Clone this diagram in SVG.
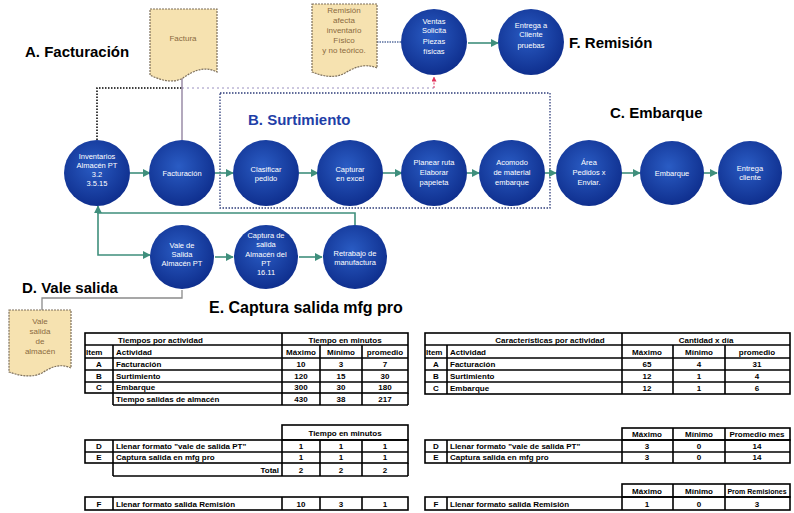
<svg xmlns="http://www.w3.org/2000/svg" width="794" height="513" viewBox="0 0 794 513">
<style>
.nt{font-family:"Liberation Sans",Arial,sans-serif;font-size:7.5px;fill:#fff;text-anchor:middle}
.dt{font-family:"Liberation Sans",Arial,sans-serif;font-size:8px;fill:#8a6a40;text-anchor:middle}
.ttl{font-family:"Liberation Sans",Arial,sans-serif;font-size:15px;font-weight:bold;fill:#000}
.tb{font-family:"Liberation Sans",Arial,sans-serif;font-size:8px;font-weight:bold;fill:#000}
.c{text-anchor:middle}
.g line,.g rect{stroke:#000;stroke-width:1.6;fill:none}
.arr{stroke:#3f8f7c;stroke-width:1.6;fill:none;marker-end:url(#ah)}
.doc{fill:#f6e2b0;stroke:#7d6f5a;stroke-width:1.2;stroke-dasharray:2 1}
</style>
<defs>
<radialGradient id="bg" cx="0.45" cy="0.4" r="0.6">
<stop offset="0" stop-color="#2a5cc4"/>
<stop offset="1" stop-color="#0f2f8e"/>
</radialGradient>
<marker id="ah" viewBox="0 0 10 10" refX="9" refY="5" markerWidth="5" markerHeight="5" orient="auto">
<path d="M0,0 L10,5 L0,10 Z" fill="#3f8f7c"/>
</marker>
<marker id="ahr" viewBox="0 0 10 10" refX="9" refY="5" markerWidth="5" markerHeight="5" orient="auto">
<path d="M0,0 L10,5 L0,10 Z" fill="#e0305a"/>
</marker>
</defs>
<rect width="794" height="513" fill="#fff"/>

<!-- titles -->
<text class="ttl" x="25" y="57">A. Facturación</text>
<text class="ttl" x="569" y="48">F. Remisión</text>
<text class="ttl" x="610" y="118">C. Embarque</text>
<text class="ttl" x="22" y="293">D. Vale salida</text>
<text class="ttl" x="209" y="313" style="font-size:16px">E. Captura salida mfg pro</text>
<text x="248" y="125" style="font-family:'Liberation Sans',Arial,sans-serif;font-size:15px;font-weight:bold;fill:#1f3fa8">B. Surtimiento</text>

<!-- Surtimiento box -->
<rect x="220" y="93" width="330" height="115" fill="none" stroke="#2e3d7a" stroke-width="1.3" stroke-dasharray="1.5 1.5"/>

<!-- connectors -->
<g id="connectors">
<path d="M97,140 V88 H182" fill="none" stroke="#000" stroke-width="1.5" stroke-dasharray="1.5 1.5"/>
<path d="M182,88 H434" fill="none" stroke="#9a90c0" stroke-width="1" stroke-dasharray="2 3"/>
<path d="M434,88 V77" fill="none" stroke="#e0305a" stroke-width="1" stroke-dasharray="2 1.5" marker-end="url(#ahr)"/>
<line x1="182" y1="78" x2="182" y2="140" stroke="#8a7a9a" stroke-width="1.3"/>
<line x1="377" y1="42" x2="402" y2="42" stroke="#5a70a0" stroke-width="1.3" stroke-dasharray="1.5 1"/>
<line class="arr" x1="468" y1="43" x2="498" y2="43"/>
<line class="arr" x1="130" y1="173" x2="150" y2="173"/>
<line class="arr" x1="215" y1="173" x2="233" y2="173"/>
<line class="arr" x1="299" y1="173" x2="318" y2="173"/>
<line class="arr" x1="383" y1="173" x2="402" y2="173"/>
<line class="arr" x1="467" y1="173" x2="479" y2="173"/>
<line class="arr" x1="545" y1="173" x2="556" y2="173"/>
<line class="arr" x1="621" y1="173" x2="640" y2="173"/>
<line class="arr" x1="704" y1="173" x2="717" y2="173"/>
<path class="arr" d="M355,225 V213 H98 V206"/>
<path class="arr" d="M98,213 V255 H150"/>
<line class="arr" x1="215" y1="257" x2="233" y2="257"/>
<line class="arr" x1="299" y1="257" x2="322" y2="257"/>
<path d="M182,290 V298 H42 V310" fill="none" stroke="#8a8a8a" stroke-width="1.3"/>
</g>

<!-- documents -->
<g id="doc-factura">
<path class="doc" d="M150,9 H217 V72 C205,66 194,70 183,78 C172,84 160,80 150,75 Z"/>
<text class="dt" x="183" y="41">Factura</text>
</g>
<g id="doc-remision">
<path class="doc" d="M312,4 H377 V68 C365,63 355,67 345,73 C334,79 322,76 312,72 Z"/>
<text class="dt" x="344" y="13">Remisión</text>
<text class="dt" x="344" y="23">afecta</text>
<text class="dt" x="344" y="33">inventario</text>
<text class="dt" x="344" y="43">Físico</text>
<text class="dt" x="344" y="53">y no teórico.</text>
</g>
<g id="doc-vale">
<path class="doc" d="M9,310 H71 V368 C60,363 51,367 42,373 C32,378 20,376 9,372 Z"/>
<text class="dt" x="40" y="324">Vale</text>
<text class="dt" x="40" y="334">salida</text>
<text class="dt" x="40" y="344">de</text>
<text class="dt" x="40" y="354">almacén</text>
</g>

<!-- nodes -->
<g id="n-inventarios"><circle cx="97" cy="173" r="33" fill="url(#bg)"/>
<text class="nt" x="97" y="159">Inventarios</text><text class="nt" x="97" y="168">Almacén PT</text><text class="nt" x="97" y="177">3.2</text><text class="nt" x="97" y="186">3.5.15</text></g>
<g id="n-facturacion"><circle cx="182" cy="173" r="33" fill="url(#bg)"/>
<text class="nt" x="182" y="176">Facturación</text></g>
<g id="n-clasificar"><circle cx="266" cy="173" r="33" fill="url(#bg)"/>
<text class="nt" x="266" y="172">Clasificar</text><text class="nt" x="266" y="181">pedido</text></g>
<g id="n-capturar"><circle cx="350" cy="173" r="33" fill="url(#bg)"/>
<text class="nt" x="350" y="172">Capturar</text><text class="nt" x="350" y="181">en excel</text></g>
<g id="n-planear"><circle cx="434" cy="173" r="33" fill="url(#bg)"/>
<text class="nt" x="434" y="165">Planear ruta</text><text class="nt" x="434" y="175">Elaborar</text><text class="nt" x="434" y="185">papeleta</text></g>
<g id="n-acomodo"><circle cx="512" cy="173" r="33" fill="url(#bg)"/>
<text class="nt" x="512" y="165">Acomodo</text><text class="nt" x="512" y="175">de material</text><text class="nt" x="512" y="185">embarque</text></g>
<g id="n-area"><circle cx="589" cy="173" r="33" fill="url(#bg)"/>
<text class="nt" x="589" y="165">Área</text><text class="nt" x="589" y="175">Pedidos x</text><text class="nt" x="589" y="185">Enviar.</text></g>
<g id="n-embarque"><circle cx="672" cy="173" r="32" fill="url(#bg)"/>
<text class="nt" x="672" y="176">Embarque</text></g>
<g id="n-entrega"><circle cx="750" cy="173" r="32" fill="url(#bg)"/>
<text class="nt" x="750" y="171">Entrega</text><text class="nt" x="750" y="180">cliente</text></g>
<g id="n-vale"><circle cx="182" cy="257" r="32" fill="url(#bg)"/>
<text class="nt" x="182" y="248">Vale de</text><text class="nt" x="182" y="257">Salida</text><text class="nt" x="182" y="266">Almacén PT</text></g>
<g id="n-captura"><circle cx="266" cy="257" r="32" fill="url(#bg)"/>
<text class="nt" x="266" y="238">Captura de</text><text class="nt" x="266" y="247">salida</text><text class="nt" x="266" y="257">Almacén del</text><text class="nt" x="266" y="266">PT</text><text class="nt" x="266" y="275">16.11</text></g>
<g id="n-retrabajo"><circle cx="355" cy="257" r="32" fill="url(#bg)"/>
<text class="nt" x="355" y="256">Retrabajo de</text><text class="nt" x="355" y="265">manufactura</text></g>
<g id="n-ventas"><circle cx="434" cy="42" r="33" fill="url(#bg)"/>
<text class="nt" x="434" y="24">Ventas</text><text class="nt" x="434" y="33">Solicita</text><text class="nt" x="434" y="44">Piezas</text><text class="nt" x="434" y="54">físicas</text></g>
<g id="n-entrega-pruebas"><circle cx="531" cy="42" r="33" fill="url(#bg)"/>
<text class="nt" x="531" y="28">Entrega a</text><text class="nt" x="531" y="37">Cliente</text><text class="nt" x="531" y="48">pruebas</text></g>

<!-- left tables -->
<g class="g" id="table-left">
<rect x="85" y="333" width="323" height="60"/>
<line x1="85" y1="345" x2="408" y2="345"/><line x1="85" y1="358" x2="408" y2="358"/>
<line x1="85" y1="370" x2="408" y2="370"/><line x1="85" y1="382" x2="408" y2="382"/>
<line x1="113" y1="405" x2="408" y2="405"/><line x1="408" y1="393" x2="408" y2="405"/>
<line x1="282" y1="333" x2="282" y2="405"/><line x1="113" y1="345" x2="113" y2="405"/>
<line x1="320" y1="345" x2="320" y2="405"/><line x1="362" y1="345" x2="362" y2="405"/>

<rect x="282" y="425" width="126" height="15"/>
<rect x="85" y="440" width="323" height="23"/>
<line x1="85" y1="452" x2="408" y2="452"/>
<line x1="113" y1="440" x2="113" y2="476"/><line x1="282" y1="440" x2="282" y2="476"/>
<line x1="320" y1="440" x2="320" y2="476"/><line x1="362" y1="440" x2="362" y2="476"/>
<line x1="113" y1="476" x2="408" y2="476"/><line x1="408" y1="463" x2="408" y2="476"/>

<rect x="85" y="497" width="323" height="13"/>
<line x1="113" y1="497" x2="113" y2="510"/><line x1="282" y1="497" x2="282" y2="510"/>
<line x1="320" y1="497" x2="320" y2="510"/><line x1="362" y1="497" x2="362" y2="510"/>
</g>
<g id="table-left-text">
<text class="tb" x="118" y="343">Tiempos por actividad</text>
<text class="tb c" x="345" y="343">Tiempo en minutos</text>
<text class="tb" x="86" y="355">Item</text><text class="tb" x="116" y="355">Actividad</text>
<text class="tb c" x="301" y="355">Máximo</text><text class="tb c" x="341" y="355">Mínimo</text><text class="tb c" x="385" y="355">promedio</text>
<text class="tb c" x="99" y="367">A</text><text class="tb" x="116" y="367">Facturación</text>
<text class="tb c" x="301" y="367">10</text><text class="tb c" x="341" y="367">3</text><text class="tb c" x="385" y="367">7</text>
<text class="tb c" x="99" y="379">B</text><text class="tb" x="116" y="379">Surtimiento</text>
<text class="tb c" x="301" y="379">120</text><text class="tb c" x="341" y="379">15</text><text class="tb c" x="385" y="379">30</text>
<text class="tb c" x="99" y="390">C</text><text class="tb" x="116" y="390">Embarque</text>
<text class="tb c" x="301" y="390">300</text><text class="tb c" x="341" y="390">30</text><text class="tb c" x="385" y="390">180</text>
<text class="tb" x="116" y="402">Tiempo salidas de almacén</text>
<text class="tb c" x="301" y="402">430</text><text class="tb c" x="341" y="402">38</text><text class="tb c" x="385" y="402">217</text>

<text class="tb c" x="345" y="436">Tiempo en minutos</text>
<text class="tb c" x="99" y="449">D</text><text class="tb" x="116" y="449">Llenar formato "vale de salida PT"</text>
<text class="tb c" x="301" y="449">1</text><text class="tb c" x="341" y="449">1</text><text class="tb c" x="385" y="449">1</text>
<text class="tb c" x="99" y="460">E</text><text class="tb" x="116" y="460">Captura salida en mfg pro</text>
<text class="tb c" x="301" y="460">1</text><text class="tb c" x="341" y="460">1</text><text class="tb c" x="385" y="460">1</text>
<text class="tb" x="279" y="473" text-anchor="end">Total</text>
<text class="tb c" x="301" y="473">2</text><text class="tb c" x="341" y="473">2</text><text class="tb c" x="385" y="473">2</text>

<text class="tb c" x="99" y="507">F</text><text class="tb" x="116" y="507">Llenar formato salida Remisión</text>
<text class="tb c" x="301" y="507">10</text><text class="tb c" x="341" y="507">3</text><text class="tb c" x="385" y="507">1</text>
</g>

<!-- right tables -->
<g class="g" id="table-right">
<rect x="425" y="333" width="365" height="61"/>
<line x1="425" y1="345" x2="790" y2="345"/><line x1="425" y1="358" x2="790" y2="358"/>
<line x1="425" y1="370" x2="790" y2="370"/><line x1="425" y1="382" x2="790" y2="382"/>
<line x1="622" y1="333" x2="622" y2="394"/><line x1="447" y1="345" x2="447" y2="394"/>
<line x1="673" y1="345" x2="673" y2="394"/><line x1="725" y1="345" x2="725" y2="394"/>

<rect x="622" y="428" width="168" height="12"/>
<rect x="425" y="440" width="365" height="23"/>
<line x1="425" y1="452" x2="790" y2="452"/>
<line x1="447" y1="440" x2="447" y2="463"/><line x1="622" y1="440" x2="622" y2="463"/>
<line x1="673" y1="428" x2="673" y2="463"/><line x1="725" y1="428" x2="725" y2="463"/>

<rect x="622" y="484" width="168" height="13"/>
<rect x="425" y="497" width="365" height="13"/>
<line x1="447" y1="497" x2="447" y2="510"/><line x1="622" y1="497" x2="622" y2="510"/>
<line x1="673" y1="484" x2="673" y2="510"/><line x1="725" y1="484" x2="725" y2="510"/>
</g>
<g id="table-right-text">
<text class="tb c" x="550" y="343">Características por actividad</text>
<text class="tb c" x="706" y="343">Cantidad x día</text>
<text class="tb" x="426" y="355">Item</text><text class="tb" x="450" y="355">Actividad</text>
<text class="tb c" x="647" y="355">Máximo</text><text class="tb c" x="699" y="355">Mínimo</text><text class="tb c" x="757" y="355">promedio</text>
<text class="tb c" x="436" y="367">A</text><text class="tb" x="450" y="367">Facturación</text>
<text class="tb c" x="647" y="367">65</text><text class="tb c" x="699" y="367">4</text><text class="tb c" x="757" y="367">31</text>
<text class="tb c" x="436" y="379">B</text><text class="tb" x="450" y="379">Surtimiento</text>
<text class="tb c" x="647" y="379">12</text><text class="tb c" x="699" y="379">1</text><text class="tb c" x="757" y="379">4</text>
<text class="tb c" x="436" y="391">C</text><text class="tb" x="450" y="391">Embarque</text>
<text class="tb c" x="647" y="391">12</text><text class="tb c" x="699" y="391">1</text><text class="tb c" x="757" y="391">6</text>

<text class="tb c" x="647" y="437">Máximo</text><text class="tb c" x="699" y="437">Mínimo</text><text class="tb c" x="757" y="437">Promedio mes</text>
<text class="tb c" x="436" y="449">D</text><text class="tb" x="450" y="449">Llenar formato "vale de salida PT"</text>
<text class="tb c" x="647" y="449">3</text><text class="tb c" x="699" y="449">0</text><text class="tb c" x="757" y="449">14</text>
<text class="tb c" x="436" y="460">E</text><text class="tb" x="450" y="460">Captura salida en mfg pro</text>
<text class="tb c" x="647" y="460">3</text><text class="tb c" x="699" y="460">0</text><text class="tb c" x="757" y="460">14</text>

<text class="tb c" x="647" y="494">Máximo</text><text class="tb c" x="699" y="494">Mínimo</text><text class="tb c" x="757" y="494" style="font-size:7px">Prom Remisiones</text>
<text class="tb c" x="436" y="507">F</text><text class="tb" x="450" y="507">Llenar formato salida Remisión</text>
<text class="tb c" x="647" y="507">1</text><text class="tb c" x="699" y="507">0</text><text class="tb c" x="757" y="507">3</text>
</g>
</svg>
